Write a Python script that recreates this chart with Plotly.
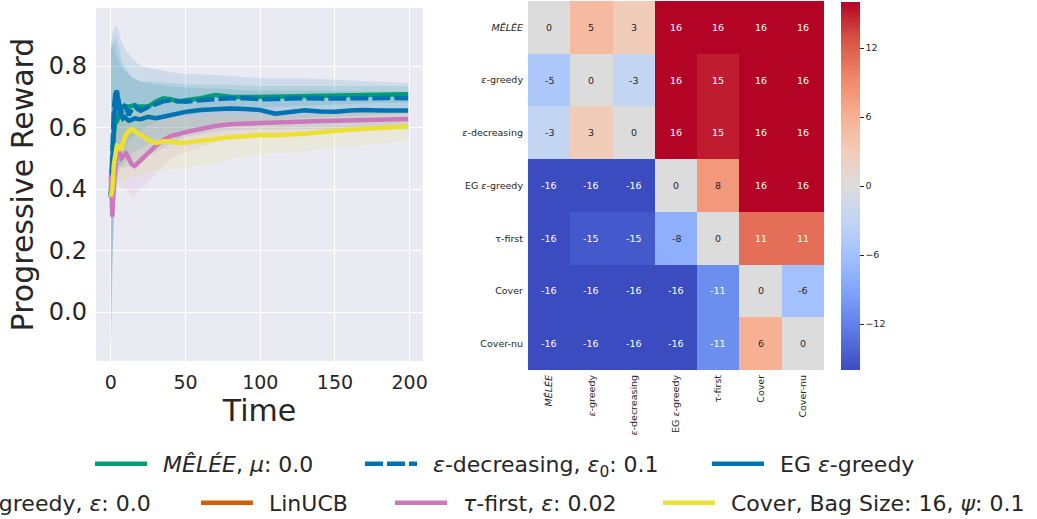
import plotly.graph_objects as go

# ---------------- line chart data ----------------
T = [0, 1, 2, 3, 4, 5, 6, 7, 8, 9, 10, 12, 14, 16, 18, 20, 25, 30, 35, 40, 45, 50,
     60, 70, 80, 90, 100, 110, 120, 130, 140, 150, 160, 170, 180, 190, 199]

melee = [0.375, 0.50, 0.58, 0.62, 0.62, 0.63, 0.65, 0.668, 0.665, 0.67, 0.67, 0.668, 0.672,
         0.673, 0.668, 0.668, 0.668, 0.684, 0.695, 0.692, 0.684, 0.689, 0.695, 0.706, 0.70,
         0.699, 0.70, 0.699, 0.70, 0.702, 0.703, 0.706, 0.706, 0.707, 0.708, 0.708, 0.708]
eps_decreasing = [0.38, 0.55, 0.66, 0.71, 0.715, 0.69, 0.66, 0.647, 0.665, 0.67, 0.665, 0.64,
                  0.66, 0.67, 0.66, 0.655, 0.667, 0.678, 0.685, 0.689, 0.686, 0.684, 0.689,
                  0.693, 0.695, 0.695, 0.692, 0.693, 0.695, 0.695, 0.694, 0.695, 0.695, 0.695,
                  0.695, 0.696, 0.695]
eg_greedy = [0.375, 0.50, 0.62, 0.70, 0.72, 0.68, 0.65, 0.64, 0.63, 0.635, 0.63, 0.622, 0.625,
             0.63, 0.628, 0.627, 0.635, 0.63, 0.635, 0.64, 0.645, 0.651, 0.657, 0.66, 0.662,
             0.66, 0.657, 0.645, 0.652, 0.656, 0.652, 0.651, 0.655, 0.657, 0.655, 0.654, 0.655]
tau_first = [0.445, 0.31, 0.42, 0.48, 0.53, 0.527, 0.51, 0.50, 0.505, 0.51, 0.516, 0.50, 0.48,
             0.475, 0.485, 0.495, 0.52, 0.54, 0.56, 0.572, 0.578, 0.585, 0.595, 0.605, 0.611,
             0.613, 0.616, 0.617, 0.619, 0.62, 0.621, 0.622, 0.623, 0.624, 0.626, 0.627, 0.628]
cover = [0.375, 0.40, 0.48, 0.52, 0.54, 0.538, 0.53, 0.527, 0.55, 0.565, 0.575, 0.588, 0.594,
         0.59, 0.58, 0.576, 0.56, 0.549, 0.555, 0.555, 0.55, 0.551, 0.558, 0.565, 0.569, 0.572,
         0.576, 0.575, 0.576, 0.58, 0.585, 0.59, 0.593, 0.596, 0.598, 0.60, 0.603]

# confidence bands (lower / upper), sampled at TB
TB = [0, 1, 2, 3, 5, 7, 10, 15, 20, 30, 40, 50, 75, 100, 125, 150, 175, 199]
melee_lo = [-0.11, 0.15, 0.30, 0.38, 0.44, 0.50, 0.54, 0.57, 0.59, 0.62, 0.635, 0.64, 0.66, 0.665, 0.67, 0.675, 0.68, 0.68]
melee_hi = [0.86, 0.88, 0.88, 0.85, 0.82, 0.80, 0.78, 0.76, 0.75, 0.75, 0.745, 0.74, 0.74, 0.735, 0.735, 0.735, 0.735, 0.735]
epsd_lo = [-0.11, 0.20, 0.35, 0.42, 0.46, 0.47, 0.49, 0.52, 0.53, 0.56, 0.58, 0.59, 0.61, 0.62, 0.63, 0.635, 0.64, 0.645]
epsd_hi = [0.86, 0.91, 0.92, 0.93, 0.92, 0.88, 0.85, 0.82, 0.80, 0.79, 0.78, 0.775, 0.77, 0.76, 0.76, 0.755, 0.75, 0.745]
eg_lo = [-0.11, 0.14, 0.33, 0.45, 0.48, 0.47, 0.47, 0.48, 0.50, 0.52, 0.545, 0.57, 0.59, 0.595, 0.595, 0.595, 0.595, 0.595]
eg_hi = [0.86, 0.86, 0.88, 0.90, 0.87, 0.82, 0.79, 0.76, 0.75, 0.74, 0.735, 0.73, 0.725, 0.72, 0.72, 0.718, 0.716, 0.716]
tau_lo = [0.34, 0.17, 0.30, 0.36, 0.42, 0.40, 0.40, 0.37, 0.40, 0.45, 0.50, 0.52, 0.56, 0.575, 0.585, 0.59, 0.595, 0.60]
tau_hi = [0.55, 0.45, 0.55, 0.60, 0.63, 0.62, 0.62, 0.60, 0.61, 0.63, 0.64, 0.645, 0.655, 0.655, 0.655, 0.655, 0.655, 0.655]
cover_lo = [0.30, 0.30, 0.36, 0.40, 0.42, 0.42, 0.43, 0.44, 0.45, 0.46, 0.465, 0.468, 0.49, 0.516, 0.52, 0.535, 0.545, 0.555]
cover_hi = [0.45, 0.50, 0.58, 0.62, 0.64, 0.66, 0.68, 0.68, 0.665, 0.64, 0.635, 0.635, 0.64, 0.64, 0.64, 0.645, 0.65, 0.65]

x_ticks = [0, 50, 100, 150, 200]
y_ticks = [0.0, 0.2, 0.4, 0.6, 0.8]

# ---------------- heatmap data ----------------
algos = ["<i>MÊLÉE</i>", "<i>ε</i>-greedy", "<i>ε</i>-decreasing", "EG <i>ε</i>-greedy",
         "τ-first", "Cover", "Cover-nu"]
wins = [
    [0, 5, 3, 16, 16, 16, 16],
    [-5, 0, -3, 16, 15, 16, 16],
    [-3, 3, 0, 16, 15, 16, 16],
    [-16, -16, -16, 0, 8, 16, 16],
    [-16, -15, -15, -8, 0, 11, 11],
    [-16, -16, -16, -16, -11, 0, -6],
    [-16, -16, -16, -16, -11, 6, 0],
]
cbar_ticks = [-12, -6, 0, 6, 12]
cbar_text = ["−12", "−6", "0", "6", "12"]

# ---------------- styles ----------------
FONT = "DejaVu Sans"
TXT = "#262626"
coolwarm = [[0.0, "#3b4cc0"], [0.1, "#5977e3"], [0.2, "#7b9ff9"], [0.3, "#9ebeff"],
            [0.4, "#c0d4f5"], [0.5, "#dddcdc"], [0.6, "#f2cbb7"], [0.7, "#f7ac8e"],
            [0.8, "#ee8468"], [0.9, "#d65244"], [1.0, "#b40426"]]

series = [
    ("<i>MÊLÉE</i>, <i>μ</i>: 0.0", melee, melee_lo, melee_hi, "#029E73", "solid", "legend"),
    ("<i>ε</i>-decreasing, <i>ε</i><sub>0</sub>: 0.1", eps_decreasing, epsd_lo, epsd_hi, "#0173B2", "18px,4px", "legend2"),
    ("EG <i>ε</i>-greedy", eg_greedy, eg_lo, eg_hi, "#0173B2", "solid", "legend3"),
    ("<i>τ</i>-first, <i>ε</i>: 0.02", tau_first, tau_lo, tau_hi, "#CC78BC", "solid", "legend6"),
    ("Cover, Bag Size: 16, <i>ψ</i>: 0.1", cover, cover_lo, cover_hi, "#ECE133", "solid", "legend7"),
]

def rgba(hexc, a):
    h = hexc.lstrip("#")
    return "rgba(%d,%d,%d,%.3f)" % (int(h[0:2], 16), int(h[2:4], 16), int(h[4:6], 16), a)

fig = go.Figure()

# bands
for name, vals, lo, hi, col, dash, lg in series:
    fig.add_trace(go.Scatter(
        x=TB + TB[::-1], y=hi + lo[::-1], fill="toself", mode="lines",
        line=dict(width=0), fillcolor=rgba(col, 0.12), showlegend=False,
        hoverinfo="skip", xaxis="x", yaxis="y"))

# lines
EN = "\u2002"
for name, vals, lo, hi, col, dash, lg in series:
    fig.add_trace(go.Scatter(
        x=T, y=vals, mode="lines", name=EN + name,
        line=dict(color=col, width=4.5, dash=dash),
        legend=lg, xaxis="x", yaxis="y"))

# legend-only entries
fig.add_trace(go.Scatter(x=[None], y=[None], mode="lines", name=EN + "<i>ε</i>-greedy, <i>ε</i>: 0.0",
                         line=dict(color="#DE8F05", width=4.5), legend="legend4"))
fig.add_trace(go.Scatter(x=[None], y=[None], mode="lines", name=EN + "LinUCB",
                         line=dict(color="#D55E00", width=4.5), legend="legend5"))

# heatmap
fig.add_trace(go.Heatmap(
    z=wins, x=algos, y=algos, zmin=-16, zmax=16, colorscale=coolwarm,
    xaxis="x2", yaxis="y2", showscale=True, hoverinfo="skip",
    colorbar=dict(x=(841 - 96) / 728, xanchor="left", xref="paper", xpad=0, ypad=0,
                  y=(370 - 186) / 369, yanchor="middle", yref="paper",
                  len=368 / 369, lenmode="fraction", thickness=19, outlinewidth=0,
                  tickvals=cbar_ticks, ticktext=cbar_text, ticks="outside", ticklen=4,
                  tickcolor=TXT, tickfont=dict(family=FONT, size=9.5, color=TXT))))

annotations = []
for i, row in enumerate(wins):
    for j, v in enumerate(row):
        annotations.append(dict(
            x=algos[j], y=algos[i], xref="x2", yref="y2", text=str(v),
            showarrow=False,
            font=dict(family=FONT, size=9.5, color="#ffffff" if abs(v) >= 10 else TXT)))

leg_common = dict(bgcolor="rgba(0,0,0,0)", borderwidth=0, itemwidth=52,
                  font=dict(family=FONT, size=22, color=TXT),
                  xanchor="left", yanchor="middle", xref="paper", yref="paper")
row1 = (370 - 464) / 369
row2 = (370 - 503) / 369
def lx(px):
    return (px - 96) / 728

fig.update_layout(
    width=1037, height=519,
    margin=dict(l=96, r=213, t=1, b=149, autoexpand=False),
    paper_bgcolor="white", plot_bgcolor="#EAEAF2",
    font=dict(family=FONT, color=TXT),
    xaxis=dict(domain=[0, (423 - 96) / 728], range=[-9.95, 208.95], tickvals=x_ticks,
               showgrid=True, gridcolor="white", gridwidth=1, zeroline=False, showline=False,
               ticks="", ticklabelstandoff=8, tickfont=dict(family=FONT, size=19, color=TXT),
               title=dict(text="Time", font=dict(family=FONT, size=30, color=TXT), standoff=6)),
    yaxis=dict(domain=[(370 - 361) / 369, (370 - 8) / 369], range=[-0.159, 0.9886],
               tickvals=y_ticks, tickformat=".1f",
               showgrid=True, gridcolor="white", gridwidth=1, zeroline=False, showline=False,
               ticks="", ticklabelstandoff=8, tickfont=dict(family=FONT, size=24, color=TXT),
               title=dict(text="Progressive Reward", font=dict(family=FONT, size=30, color=TXT), standoff=6)),
    xaxis2=dict(domain=[(528 - 96) / 728, 1.0], anchor="y2", showgrid=False, zeroline=False,
                tickangle=-90, ticks="", ticklabelstandoff=2,
                tickfont=dict(family=FONT, size=9.5, color=TXT)),
    yaxis2=dict(domain=[0, 1], anchor="x2", showgrid=False, zeroline=False, autorange="reversed",
                ticks="", ticklabelstandoff=4, tickfont=dict(family=FONT, size=9.5, color=TXT)),
    annotations=annotations,
    showlegend=True,
    legend=dict(x=lx(90), y=row1, **leg_common),
    legend2=dict(x=lx(360), y=row1, **leg_common),
    legend3=dict(x=lx(707), y=row1, **leg_common),
    legend4=dict(x=lx(-94), y=row2, **leg_common),
    legend5=dict(x=lx(196), y=row2, **leg_common),
    legend6=dict(x=lx(390), y=row2, **leg_common),
    legend7=dict(x=lx(658), y=row2, **leg_common),
)

fig.write_html("out.html", config={"displayModeBar": False},
               post_script="document.body.style.margin='0';")
